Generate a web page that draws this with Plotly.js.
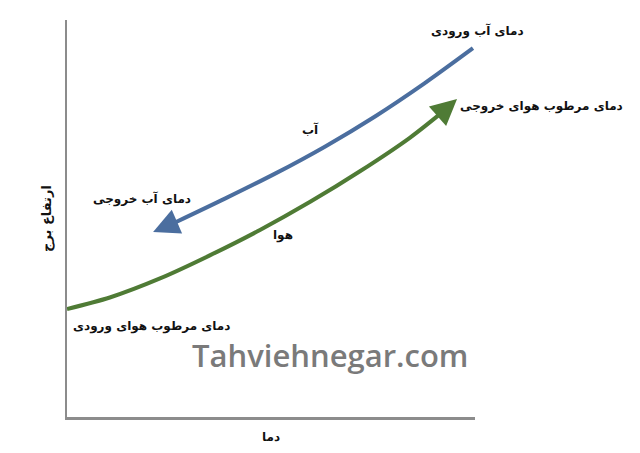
<!DOCTYPE html>
<html>
<head>
<meta charset="utf-8">
<script src="https://cdn.plot.ly/plotly-3.0.1.min.js"></script>
<style>
  html, body { margin: 0; padding: 0; background: #fff; }
  #chart { width: 640px; height: 453px; }
</style>
</head>
<body>
<div id="chart"></div>
<script>
// water curve, from inlet (top right) down to the outlet arrow
let waterX = [99.5, 87.7, 75.5, 63.2, 51.0, 38.7, 26.5];
let waterY = [92.9, 84.1, 75.7, 68.1, 61.3, 55.0, 49.0];
let waterTip = [21.1, 46.6];

// air curve, from inlet (left) up to the outlet arrow
let airX = [0, 10.5, 22.8, 35.0, 47.3, 59.6, 71.8, 84.1, 91.4];
let airY = [27.2, 30.1, 34.9, 40.7, 47.1, 54.2, 61.9, 70.4, 76.3];
let airTip = [95.6, 80.1];

// labels inside the plot (data units)
let labelText = ['آب', 'دمای آب خروجی', 'هوا', 'دمای مرطوب هوای ورودی'];
let labelX = [59.8, 18.4, 52.9, 20.6];
let labelY = [72.3, 54.9, 45.8, 22.9];

// labels right of the plot area (paper units)
let sideText = ['دمای آب ورودی', 'دمای مرطوب هوای خروجی'];
let sideX = [1.005, 1.164];
let sideY = [0.972, 0.783];

let xTitle = 'دما';
let yTitle = 'ارتفاع برج';
let watermark = 'Tahviehnegar.com';

let waterColor = '#4b6e9f';
let airColor = '#4f7b35';
let textFont = 'DejaVu Sans, sans-serif';
let labelFont = {family: textFont, size: 12, color: '#111', weight: 'bold'};

let data = [
  {
    x: waterX,
    y: waterY,
    mode: 'lines',
    type: 'scatter',
    line: {color: waterColor, width: 4, shape: 'spline', smoothing: 0.8},
    hoverinfo: 'skip'
  },
  {
    x: airX,
    y: airY,
    mode: 'lines',
    type: 'scatter',
    line: {color: airColor, width: 4, shape: 'spline', smoothing: 0.8},
    hoverinfo: 'skip'
  }
];

function arrowHead(xs, ys, tip, color) {
  return {
    x: tip[0],
    y: tip[1],
    ax: xs[xs.length - 1],
    ay: ys[ys.length - 1],
    xref: 'x', yref: 'y', axref: 'x', ayref: 'y',
    text: '',
    font: {size: 1},
    borderpad: 0,
    showarrow: true,
    arrowhead: 2,
    arrowsize: 1.3,
    arrowwidth: 4,
    arrowcolor: color
  };
}

let annotations = [];
annotations.push(arrowHead(waterX, waterY, waterTip, waterColor));
annotations.push(arrowHead(airX, airY, airTip, airColor));

for (let i = 0; i < labelText.length; i++) {
  annotations.push({
    x: labelX[i], y: labelY[i],
    xref: 'x', yref: 'y',
    xanchor: 'center', yanchor: 'middle',
    text: labelText[i],
    showarrow: false,
    font: labelFont
  });
}

for (let i = 0; i < sideText.length; i++) {
  annotations.push({
    x: sideX[i], y: sideY[i],
    xref: 'paper', yref: 'paper',
    xanchor: 'center', yanchor: 'middle',
    text: sideText[i],
    showarrow: false,
    font: labelFont
  });
}

annotations.push({
  x: 0.645, y: 0.155,
  xref: 'paper', yref: 'paper',
  xanchor: 'center', yanchor: 'middle',
  text: watermark,
  showarrow: false,
  font: {family: 'Open Sans, sans-serif', size: 31, color: '#7a7a7a', weight: 600}
});

let layout = {
  width: 640,
  height: 453,
  margin: {l: 67, r: 165, t: 20, b: 36},
  paper_bgcolor: '#fff',
  plot_bgcolor: '#fff',
  showlegend: false,
  xaxis: {
    range: [0, 100],
    showline: true,
    linecolor: '#8c8c8c',
    linewidth: 2.5,
    showgrid: false,
    zeroline: false,
    showticklabels: false,
    ticks: '',
    title: {text: xTitle, font: labelFont, standoff: 14}
  },
  yaxis: {
    range: [0, 100],
    showline: true,
    linecolor: '#8c8c8c',
    linewidth: 2.5,
    showgrid: false,
    zeroline: false,
    showticklabels: false,
    ticks: '',
    title: {text: yTitle, font: {family: textFont, size: 13, color: '#111', weight: 'bold'}, standoff: 10}
  },
  annotations: annotations
};

Plotly.newPlot('chart', data, layout, {displayModeBar: false, staticPlot: true});
</script>
</body>
</html>
